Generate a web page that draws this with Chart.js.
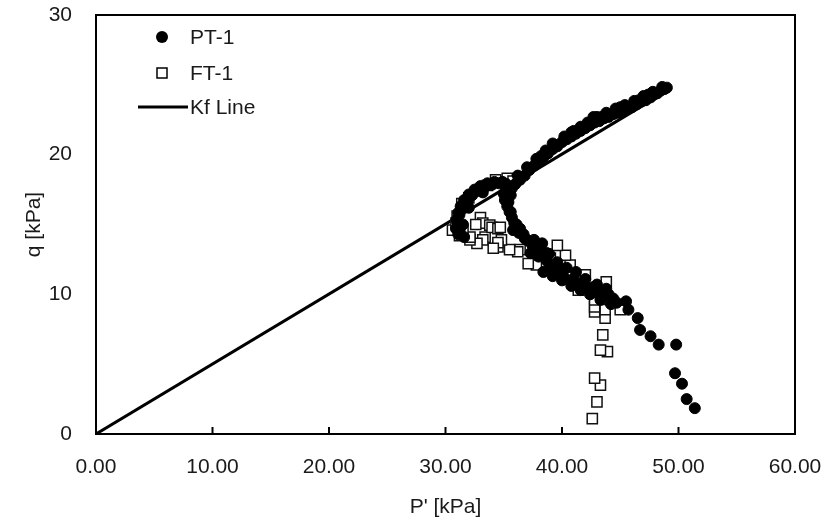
<!DOCTYPE html>
<html>
<head>
<meta charset="utf-8">
<script src="https://cdn.jsdelivr.net/npm/chart.js@4.4.1/dist/chart.umd.min.js"></script>
<style>
html,body{margin:0;padding:0;background:#fff;}
#wrap{width:837px;height:526px;}
</style>
</head>
<body>
<div id="wrap"><canvas id="c" width="837" height="526"></canvas></div>
<script>
// ---- data ----
const seriesNames = ["PT-1", "FT-1", "Kf Line"];
const xTickValues = [0, 10, 20, 30, 40, 50, 60];
const yTickValues = [0, 10, 20, 30];

const ptP = [51.4,50.7,50.3,49.7,49.8,48.3,47.6,46.7,46.5,45.7,45.5,44.7,
  44.4,44.0,43.6,43.0,42.6,42.2,41.8,41.5,41.0,40.6,40.1,39.8,39.4,39.0,38.7,38.4,38.6,38.3,38.0,37.7,37.3,37.4,37.0,36.7,36.4,36.1,35.8,35.7,35.5,35.3,35.1,35.0,35.3,35.7,
  44.2,43.3,42.4,41.6,40.8,40.0,39.2,43.8,43.0,42.0,41.2,40.4,39.6,38.9,38.0,37.6,
  36.8,36.3,35.9,35.6,35.4,35.6,
  35.2,34.6,34.0,33.4,32.8,32.3,31.9,31.5,31.2,31.0,30.9,31.1,31.6,33.2,32.0,31.5,
  34.9,34.2,33.6,33.0,32.5,32.0,31.6,31.3,31.1,31.0,31.2,
  36.0,36.4,36.8,37.2,37.6,38.0,38.4,38.8,39.2,39.6,40.0,40.4,40.8,41.2,41.6,42.0,42.4,42.7,42.8,43.2,43.6,44.0,44.4,44.8,45.2,45.6,46.0,46.4,46.8,47.2,47.6,47.9,48.2,48.5,48.8,49.0,47.4,46.6,45.0,43.4,41.0,39.4,38.2,
  36.2,37.0,37.8,38.6,39.2,40.2,40.8,41.6,42.2,43.0,43.8,44.6,45.4,46.2,47.0,47.8,48.6];
const ptQ = [1.85,2.5,3.6,4.35,6.4,6.4,7.0,7.45,8.3,8.9,9.5,9.4,
  9.7,10.0,9.9,10.1,10.5,10.4,10.8,10.7,11.1,11.0,11.3,11.8,11.6,12.0,12.4,11.6,13.0,13.65,12.7,13.2,12.95,13.6,13.9,14.3,14.7,15.0,14.6,15.5,15.9,16.3,16.75,17.2,17.6,17.6,
  9.3,9.6,10.0,10.3,10.6,11.0,11.3,10.4,10.7,11.1,11.6,11.9,12.3,12.9,13.4,13.9,
  14.0,14.4,15.1,15.9,16.6,17.1,
  17.9,17.95,17.85,17.7,17.45,17.1,16.7,16.2,15.7,15.2,14.7,14.3,14.1,17.3,16.2,15.0,
  18.05,18.05,17.95,17.75,17.5,17.15,16.75,16.3,15.85,15.4,14.6,
  17.9,18.2,18.5,18.9,19.2,19.5,19.8,20.1,20.4,20.6,20.9,21.1,21.3,21.5,21.7,21.9,22.1,22.7,22.3,22.4,22.6,22.7,22.9,23.0,23.1,23.3,23.4,23.6,23.8,23.9,24.1,24.3,24.4,24.6,24.7,24.8,24.3,23.9,23.4,22.7,21.7,20.7,19.9,
  18.5,19.1,19.7,20.3,20.8,21.3,21.6,22.0,22.3,22.7,23.0,23.3,23.55,23.85,24.2,24.5,24.85];

const ftP = [42.6,43.0,43.3,42.8,43.9,43.3,43.5,43.7,43.7,42.8,42.8,45.0,42.8,43.8,41.4,42.0,40.7,40.3,39.6,39.0,38.4,37.8,37.1,36.4,36.2,35.5,34.8,34.5,34.5,34.1,33.4,33.2,32.7,32.1,32.1,31.5,30.6,30.9,31.2,33.0,33.2,33.8,34.0,34.5,34.7,32.6,34.3,35.3,35.8,31.0,31.4,32.0,32.8,33.6];
const ftQ = [1.1,2.3,3.5,4.0,5.9,6.0,7.1,8.3,8.9,8.75,9.1,8.9,9.6,10.9,10.3,11.4,12.1,12.8,13.5,12.6,12.3,12.1,12.2,13.2,13.05,13.2,13.9,13.4,13.7,13.3,14.1,13.9,13.65,13.9,14.1,14.6,14.6,15.1,14.2,15.5,15.1,14.96,14.8,14.7,14.8,15.0,18.2,18.3,18.1,15.6,16.5,16.9,17.4,17.8];

const kfP = [0, 48.5];
const kfQ = [0, 24.3];

// ---- build chart ----
const toXY = (xs, ys) => xs.map((x, i) => ({x: x, y: ys[i]}));
const FONT = '"Liberation Sans", Arial, sans-serif';
const TXT = '#1a1a1a';

const framePlugin = {
  id: 'frame',
  afterDatasetsDraw(chart) {
    const {ctx, chartArea: a, scales} = chart;
    ctx.save();
    ctx.strokeStyle = '#000';
    ctx.lineWidth = 2;
    ctx.strokeRect(a.left, a.top, a.right - a.left, a.bottom - a.top);
    // inward tick marks on the x axis
    scales.x.ticks.forEach(t => {
      const px = scales.x.getPixelForValue(t.value);
      ctx.beginPath();
      ctx.moveTo(px, a.bottom);
      ctx.lineTo(px, a.bottom - 7);
      ctx.stroke();
    });
    // legend
    const ds = chart.data.datasets;
    const lx = a.left + 66, tx = a.left + 94;
    const rows = [a.top + 22, a.top + 58, a.top + 92];
    ctx.font = '21px ' + FONT;
    ctx.textBaseline = 'middle';
    ctx.textAlign = 'left';
    // PT-1
    ctx.beginPath();
    ctx.arc(lx, rows[0], 6, 0, Math.PI * 2);
    ctx.fillStyle = '#000';
    ctx.fill();
    // FT-1
    ctx.fillStyle = '#fff';
    ctx.fillRect(lx - 5, rows[1] - 5, 10, 10);
    ctx.lineWidth = 1.5;
    ctx.strokeStyle = '#000';
    ctx.strokeRect(lx - 5, rows[1] - 5, 10, 10);
    // Kf line
    ctx.lineWidth = 3;
    ctx.beginPath();
    ctx.moveTo(a.left + 42, rows[2]);
    ctx.lineTo(a.left + 92, rows[2]);
    ctx.stroke();
    ctx.fillStyle = TXT;
    ctx.fillText(ds[0].label, tx, rows[0] + 1);
    ctx.fillText(ds[1].label, tx, rows[1] + 1);
    ctx.fillText(ds[2].label, tx, rows[2] + 1);
    ctx.restore();
  }
};

new Chart(document.getElementById('c'), {
  type: 'scatter',
  data: {
    datasets: [
      {
        label: seriesNames[0],
        data: toXY(ptP, ptQ),
        pointStyle: 'circle',
        pointRadius: 5.5,
        borderWidth: 1,
        backgroundColor: '#000',
        borderColor: '#000'
      },
      {
        label: seriesNames[1],
        data: toXY(ftP, ftQ),
        pointStyle: 'rect',
        pointRadius: 7.2,
        borderWidth: 1.5,
        backgroundColor: '#fff',
        borderColor: '#111'
      },
      {
        label: seriesNames[2],
        type: 'line',
        data: toXY(kfP, kfQ),
        borderColor: '#000',
        borderWidth: 3,
        pointRadius: 0,
        showLine: true,
        fill: false
      }
    ]
  },
  options: {
    responsive: false,
    animation: false,
    events: [],
    layout: {padding: {left: 0, right: 42, top: 15, bottom: 0}},
    plugins: {legend: {display: false}, tooltip: {enabled: false}},
    scales: {
      x: {
        type: 'linear',
        min: 0, max: 60,
        afterBuildTicks: s => { s.ticks = xTickValues.map(v => ({value: v})); },
        afterFit: s => { s.height = 92; s.paddingLeft = 0; s.paddingRight = 0; },
        grid: {display: false, drawTicks: false},
        border: {display: false},
        ticks: {
          padding: 21,
          color: TXT,
          font: {family: FONT, size: 21},
          callback: v => Number(v).toFixed(2)
        },
        title: {
          display: true, text: "P' [kPa]", color: TXT,
          font: {family: FONT, size: 21},
          padding: {top: 0, bottom: 6}
        }
      },
      y: {
        type: 'linear',
        min: 0, max: 30,
        afterBuildTicks: s => { s.ticks = yTickValues.map(v => ({value: v})); },
        afterFit: s => { s.width = 96; s.paddingTop = 0; s.paddingBottom = 0; },
        grid: {display: false, drawTicks: false},
        border: {display: false},
        ticks: {
          padding: 24,
          color: TXT,
          font: {family: FONT, size: 21}
        },
        title: {
          display: true, text: 'q [kPa]', color: TXT,
          font: {family: FONT, size: 21},
          padding: {top: 22, bottom: 0}
        }
      }
    }
  },
  plugins: [framePlugin]
});
</script>
</body>
</html>
